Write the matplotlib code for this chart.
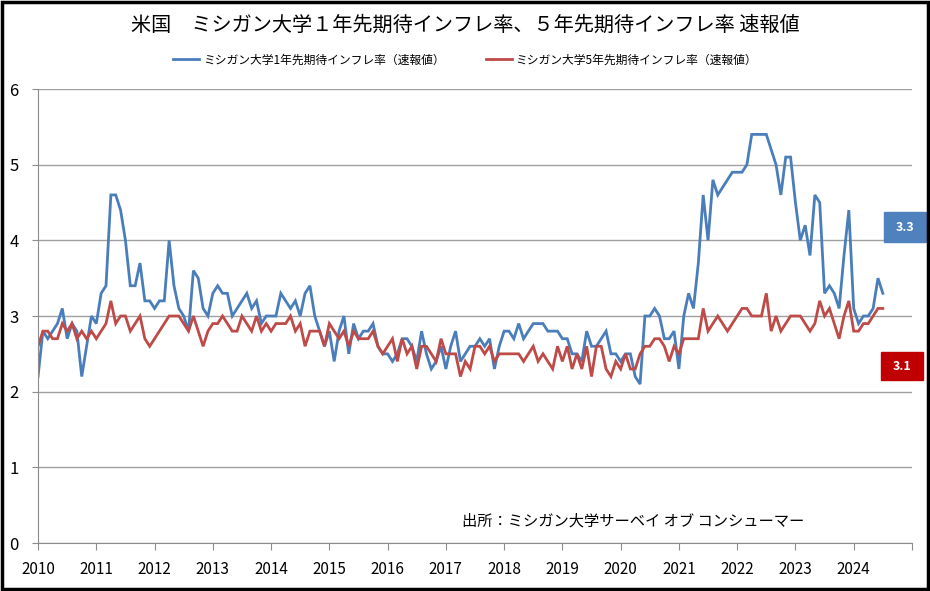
import numpy as np
import pandas as pd
import matplotlib
matplotlib.use("Agg")
import matplotlib.pyplot as plt
from matplotlib.patches import Rectangle

plt.rcParams['font.family'] = ['Noto Sans CJK JP', 'DejaVu Sans']

# monthly preliminary readings, Dec 2009 .. Jun 2024
one_year = [
    2.2,
    2.8, 2.7, 2.8, 2.9, 3.1, 2.7, 2.9, 2.8, 2.2, 2.6, 3.0, 2.9,  # 2010
    3.3, 3.4, 4.6, 4.6, 4.4, 4.0, 3.4, 3.4, 3.7, 3.2, 3.2, 3.1,  # 2011
    3.2, 3.2, 4.0, 3.4, 3.1, 3.0, 2.8, 3.6, 3.5, 3.1, 3.0, 3.3,  # 2012
    3.4, 3.3, 3.3, 3.0, 3.1, 3.2, 3.3, 3.1, 3.2, 2.9, 3.0, 3.0,  # 2013
    3.0, 3.3, 3.2, 3.1, 3.2, 3.0, 3.3, 3.4, 3.0, 2.8, 2.6, 2.8,  # 2014
    2.4, 2.8, 3.0, 2.5, 2.9, 2.7, 2.8, 2.8, 2.9, 2.6, 2.5, 2.5,  # 2015
    2.4, 2.5, 2.7, 2.7, 2.6, 2.4, 2.8, 2.5, 2.3, 2.4, 2.6, 2.3,  # 2016
    2.6, 2.8, 2.4, 2.5, 2.6, 2.6, 2.7, 2.6, 2.7, 2.3, 2.6, 2.8,  # 2017
    2.8, 2.7, 2.9, 2.7, 2.8, 2.9, 2.9, 2.9, 2.8, 2.8, 2.8, 2.7,  # 2018
    2.7, 2.5, 2.5, 2.4, 2.8, 2.6, 2.6, 2.7, 2.8, 2.5, 2.5, 2.4,  # 2019
    2.5, 2.5, 2.2, 2.1, 3.0, 3.0, 3.1, 3.0, 2.7, 2.7, 2.8, 2.3,  # 2020
    3.0, 3.3, 3.1, 3.7, 4.6, 4.0, 4.8, 4.6, 4.7, 4.8, 4.9, 4.9,  # 2021
    4.9, 5.0, 5.4, 5.4, 5.4, 5.4, 5.2, 5.0, 4.6, 5.1, 5.1, 4.5,  # 2022
    4.0, 4.2, 3.8, 4.6, 4.5, 3.3, 3.4, 3.3, 3.1, 3.8, 4.4, 3.1,  # 2023
    2.9, 3.0, 3.0, 3.1, 3.5, 3.3,                                # 2024
]
five_year = [
    2.6,
    2.8, 2.8, 2.7, 2.7, 2.9, 2.8, 2.9, 2.7, 2.8, 2.7, 2.8, 2.7,  # 2010
    2.8, 2.9, 3.2, 2.9, 3.0, 3.0, 2.8, 2.9, 3.0, 2.7, 2.6, 2.7,  # 2011
    2.8, 2.9, 3.0, 3.0, 3.0, 2.9, 2.8, 3.0, 2.8, 2.6, 2.8, 2.9,  # 2012
    2.9, 3.0, 2.9, 2.8, 2.8, 3.0, 2.9, 2.8, 3.0, 2.8, 2.9, 2.8,  # 2013
    2.9, 2.9, 2.9, 3.0, 2.8, 2.9, 2.6, 2.8, 2.8, 2.8, 2.6, 2.9,  # 2014
    2.8, 2.7, 2.8, 2.6, 2.8, 2.7, 2.7, 2.7, 2.8, 2.6, 2.5, 2.6,  # 2015
    2.7, 2.4, 2.7, 2.5, 2.6, 2.3, 2.6, 2.6, 2.5, 2.4, 2.7, 2.5,  # 2016
    2.5, 2.5, 2.2, 2.4, 2.3, 2.6, 2.6, 2.5, 2.6, 2.4, 2.5, 2.5,  # 2017
    2.5, 2.5, 2.5, 2.4, 2.5, 2.6, 2.4, 2.5, 2.4, 2.3, 2.6, 2.4,  # 2018
    2.6, 2.3, 2.5, 2.3, 2.6, 2.2, 2.6, 2.6, 2.3, 2.2, 2.4, 2.3,  # 2019
    2.5, 2.3, 2.3, 2.5, 2.6, 2.6, 2.7, 2.7, 2.6, 2.4, 2.6, 2.5,  # 2020
    2.7, 2.7, 2.7, 2.7, 3.1, 2.8, 2.9, 3.0, 2.9, 2.8, 2.9, 3.0,  # 2021
    3.1, 3.1, 3.0, 3.0, 3.0, 3.3, 2.8, 3.0, 2.8, 2.9, 3.0, 3.0,  # 2022
    3.0, 2.9, 2.8, 2.9, 3.2, 3.0, 3.1, 2.9, 2.7, 3.0, 3.2, 2.8,  # 2023
    2.8, 2.9, 2.9, 3.0, 3.1, 3.1,                                # 2024
]
label_1y = 'ミシガン大学1年先期待インフレ率（速報値）'
label_5y = 'ミシガン大学5年先期待インフレ率（速報値）'
title = '米国　ミシガン大学１年先期待インフレ率、５年先期待インフレ率 速報値'
source = '出所：ミシガン大学サーベイ オブ コンシューマー'
year_ticks = list(range(2010, 2026))

months = pd.date_range('2009-12-01', periods=len(one_year), freq='MS')
x = months.year + months.month / 12.0

blue = '#4a7ebb'
red = '#be4b48'

fig = plt.figure(figsize=(9.3, 5.91), dpi=100)
ax = fig.add_axes([0.0409, 0.0812, 0.9397, 0.7682])

ax.plot(x, one_year, color=blue, lw=2.0, label=label_1y, solid_joinstyle='miter')
ax.plot(x, five_year, color=red, lw=2.0, label=label_5y, solid_joinstyle='miter')

ax.set_xlim(2010, 2025)
ax.set_ylim(0, 6)
ax.set_yticks(range(0, 7))
ax.set_xticks(year_ticks)
ax.set_xticklabels([str(y) if y < 2025 else '' for y in year_ticks])
ax.grid(axis='y', color='#a0a0a0', lw=1)
ax.set_axisbelow(True)
for s in ['top', 'right']:
    ax.spines[s].set_visible(False)
for s in ['left', 'bottom']:
    ax.spines[s].set_color('#8c8c8c')
ax.tick_params(axis='x', direction='out', length=5, color='#8c8c8c', labelsize=11, pad=8)
ax.tick_params(axis='y', direction='out', length=4, color='#8c8c8c', labelsize=12, pad=10)

fig.text(0.5, 1 - 25 / 591, title, ha='center', va='center', fontsize=14.5)
fig.legend(loc='center', bbox_to_anchor=(0.5, 1 - 60 / 591), ncol=2, frameon=False,
           fontsize=8.5, handlelength=2.2, columnspacing=3.5, handletextpad=0.3)
fig.text(462 / 930, 1 - 521 / 591, source, ha='left', va='center', fontsize=11)

# latest value boxes
fig.patches.append(Rectangle((884 / 930, 1 - 242 / 591), 42 / 930, 30 / 591,
                             transform=fig.transFigure, color='#4f81bd'))
fig.text(905 / 930, 1 - 227 / 591, f'{one_year[-1]:.1f}', ha='center', va='center',
         color='white', fontsize=9, fontweight='bold')
fig.patches.append(Rectangle((881 / 930, 1 - 380 / 591), 42 / 930, 28 / 591,
                             transform=fig.transFigure, color='#c00000'))
fig.text(902 / 930, 1 - 366 / 591, f'{five_year[-1]:.1f}', ha='center', va='center',
         color='white', fontsize=9, fontweight='bold')

fig.patches.append(Rectangle((0.002, 0.003), 0.996, 0.994, transform=fig.transFigure,
                             fill=False, edgecolor='black', lw=2.5))

fig.savefig('out.png', dpi=100)
